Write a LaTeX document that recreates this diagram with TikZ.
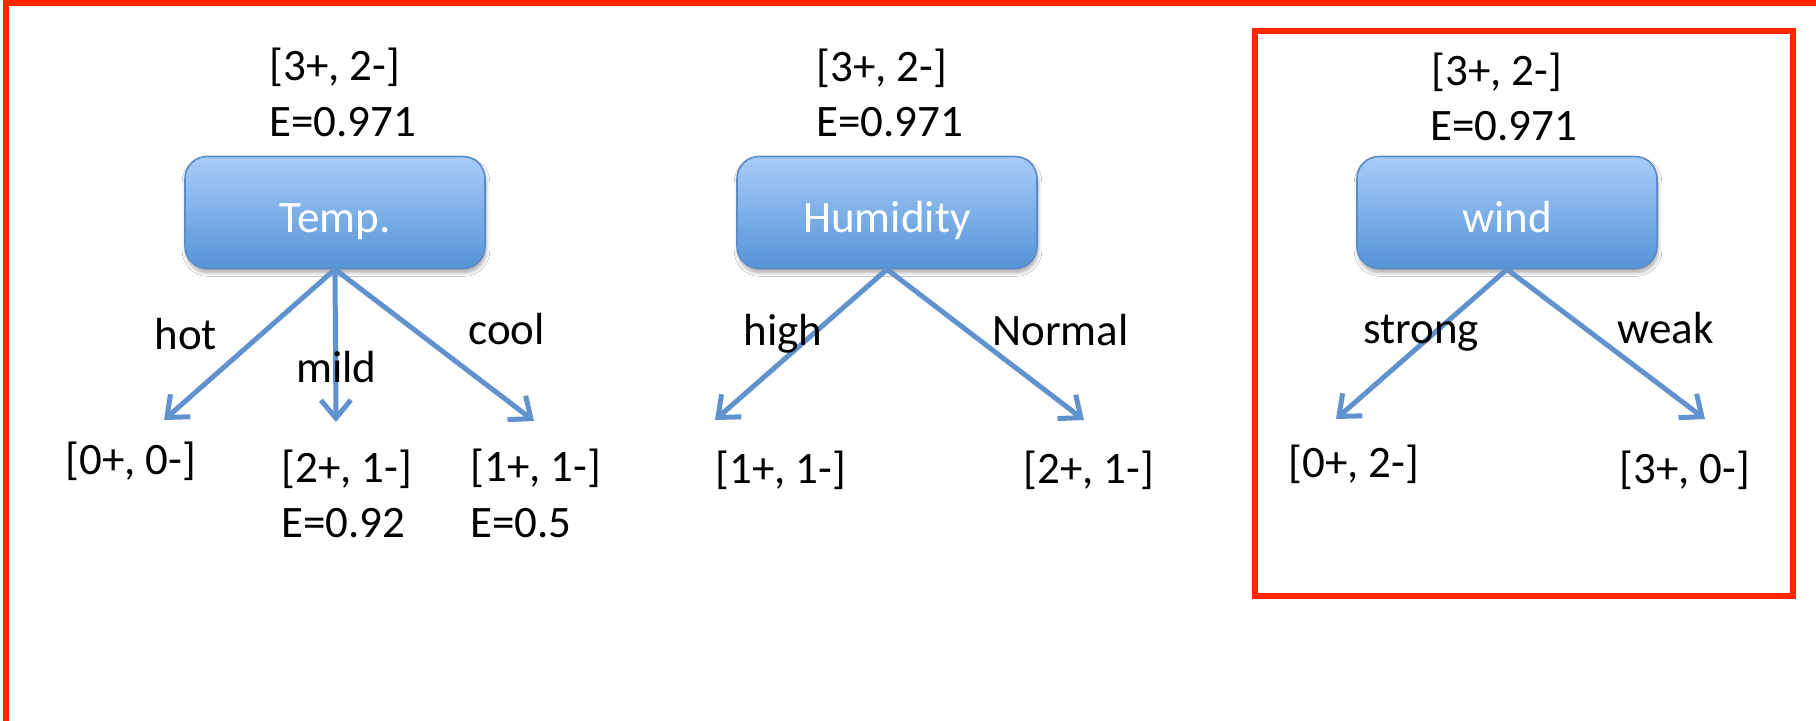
\documentclass[tikz,border=0pt]{standalone}
\usepackage{fontspec}
\setmainfont{Carlito}
\usetikzlibrary{arrows.meta,shadows.blur}
\definecolor{framered}{RGB}{255,38,0}
\definecolor{arrblue}{RGB}{96,146,206}
\definecolor{boxtop}{RGB}{168,204,250}
\definecolor{boxbot}{RGB}{84,148,214}
\definecolor{boxline}{RGB}{92,140,200}
\begin{document}
\begin{tikzpicture}[x=0.5pt,y=-0.5pt,
  txt/.style={anchor=base west, inner sep=0pt, font=\fontsize{22.5}{27}\selectfont, text=black},
  attrbox/.style={rounded corners=11pt, draw=boxline, line width=0.8pt,
    top color=boxtop, bottom color=boxbot,
    minimum width=150pt, minimum height=56pt, text=white,
    font=\fontsize{22.5}{27}\selectfont, text height=20pt, text depth=0pt, inner sep=0pt,
    blur shadow={shadow xshift=0.5pt, shadow yshift=-2pt, shadow blur steps=6, shadow opacity=35}},
  branch/.style={draw=arrblue, line width=2.5pt, -{Straight Barb[length=9pt,width=15pt]}},
  frameline/.style={draw=framered, line width=3pt}
]
\useasboundingbox (0,0) rectangle (1816,721);
\clip (0,0) rectangle (1816,721);
\fill[white] (0,0) rectangle (1816,721);
% outer frame (top and left edges visible)
\draw[frameline, line join=miter] (6,730) -- (6,3) -- (1830,3);
% inner highlight box
\draw[draw=framered, line width=2.8pt, line join=miter] (1255,31) rectangle (1793,596);

% ---------- Temp ----------
\node[attrbox] (temp) at (335,212.5) {Temp.};
\node[txt] (tcount) at (269,81) {[3+, 2-]};
\node[txt] (tent) at (269,137) {E=0.971};
\coordinate (thot) at (164,420);
\coordinate (tmild) at (336,422);
\coordinate (tcool) at (534,421);
\draw[branch] (temp.south) -- (thot);
\draw[branch] (temp.south) -- (tmild);
\draw[branch] (temp.south) -- (tcool);
\node[txt] (lhot) at (154,350) {hot};
\node[txt] (lmild) at (296,383) {mild};
\node[txt] (lcool) at (468,345) {cool};
\node[txt] (hotleaf) at (65,475) {[0+, 0-]};
\node[txt] (mildleaf) at (281,483) {[2+, 1-]};
\node[txt] (mildent) at (281,538) {E=0.92};
\node[txt] (coolleaf) at (470,482) {[1+, 1-]};
\node[txt] (coolent) at (470,538) {E=0.5};

% ---------- Humidity ----------
\node[attrbox] (hum) at (887,212.5) {Humidity};
\node[txt] (hcount) at (816,82) {[3+, 2-]};
\node[txt] (hent) at (816,137) {E=0.971};
\coordinate (hhigh) at (715,420);
\coordinate (hnorm) at (1084,420);
\draw[branch] (hum.south) -- (hhigh);
\draw[branch] (hum.south) -- (hnorm);
\node[txt] (lhigh) at (743,346) {high};
\node[txt] (lnorm) at (992,346) {Normal};
\node[txt] (highleaf) at (715,484) {[1+, 1-]};
\node[txt] (normleaf) at (1023,484) {[2+, 1-]};

% ---------- wind ----------
\node[attrbox] (wind) at (1507,212.5) {wind};
\node[txt] (wcount) at (1431,86) {[3+, 2-]};
\node[txt] (went) at (1430,141) {E=0.971};
\coordinate (wstrong) at (1336,419);
\coordinate (wweak) at (1705,419);
\draw[branch] (wind.south) -- (wstrong);
\draw[branch] (wind.south) -- (wweak);
\node[txt] (lstrong) at (1363,344) {strong};
\node[txt] (lweak) at (1617,344) {weak};
\node[txt] (strongleaf) at (1288,478) {[0+, 2-]};
\node[txt] (weakleaf) at (1619,484) {[3+, 0-]};
\end{tikzpicture}
\end{document}
